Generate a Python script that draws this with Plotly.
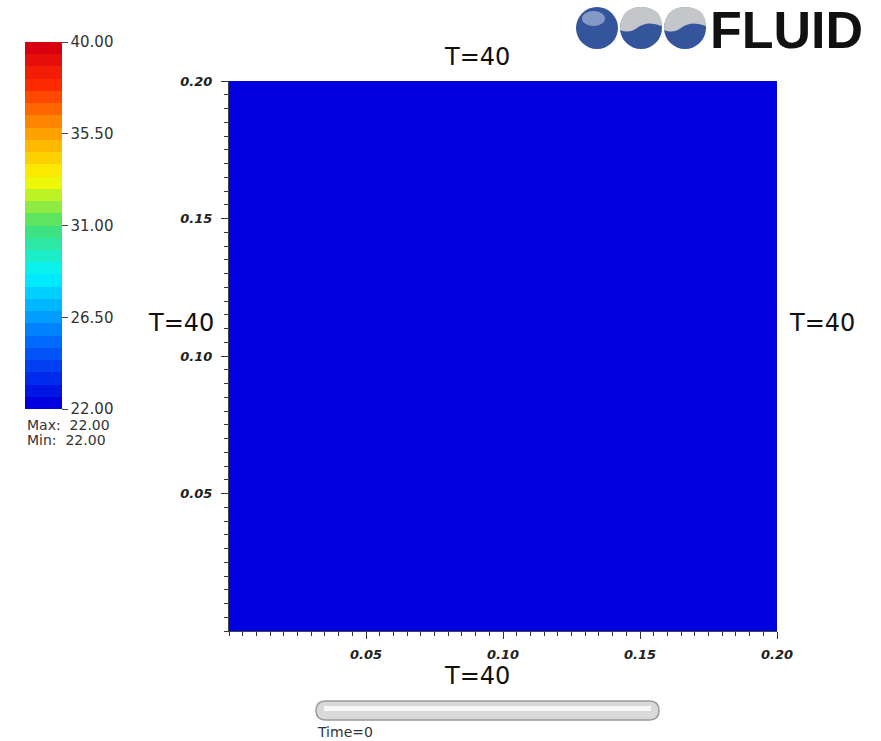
import plotly.graph_objects as go

# ---- data ----
x_centers = [0.025, 0.075, 0.125, 0.175]
y_centers = [0.025, 0.075, 0.125, 0.175]
temperature = [
    [22.0, 22.0, 22.0, 22.0],
    [22.0, 22.0, 22.0, 22.0],
    [22.0, 22.0, 22.0, 22.0],
    [22.0, 22.0, 22.0, 22.0],
]
t_min, t_max = 22.0, 40.0
cbar_ticks = [22.0, 26.5, 31.0, 35.5, 40.0]
axis_ticks = [0.05, 0.10, 0.15, 0.20]
boundary_labels = ["T=40", "T=40", "T=40", "T=40"]  # top, left, right, bottom
time_label = "Time=0"
logo_text = "FLUID"

W, H = 881, 741
L, R, T, B = 229, 777, 81, 631


def px(xp):
    return (xp - L) / (R - L)


def py(yp):
    return (B - yp) / (B - T)


# discrete rainbow colour map (30 bands)
anchors = [
    (0.00, (0, 0, 222)),
    (0.18, (0, 110, 255)),
    (0.36, (0, 245, 255)),
    (0.50, (70, 225, 110)),
    (0.63, (250, 250, 0)),
    (0.76, (255, 160, 0)),
    (0.90, (255, 40, 0)),
    (1.00, (215, 0, 15)),
]


def interp(f):
    for (a, ca), (b, cb) in zip(anchors[:-1], anchors[1:]):
        if a <= f <= b:
            t = (f - a) / (b - a)
            return tuple(int(round(ca[i] + (cb[i] - ca[i]) * t)) for i in range(3))
    return anchors[-1][1]


nb = 30
cscale = []
for i in range(nb):
    c = interp(i / (nb - 1))
    col = f"rgb({c[0]},{c[1]},{c[2]})"
    cscale.append([i / nb, col])
    cscale.append([(i + 1) / nb, col])

fig = go.Figure()
fig.add_trace(go.Heatmap(
    x=x_centers, y=y_centers, z=temperature,
    zmin=t_min, zmax=t_max, colorscale=cscale,
    hoverinfo="skip",
    colorbar=dict(
        x=px(25), xanchor="left", xpad=0,
        y=py(225.5), yanchor="middle", ypad=0,
        thickness=37, lenmode="pixels", len=367,
        outlinewidth=0,
        tickmode="array", tickvals=cbar_ticks,
        ticktext=[f"{v:.2f}" for v in cbar_ticks],
        ticks="outside", ticklen=6, tickcolor="#444", tickwidth=1,
        tickfont=dict(family="DejaVu Sans", size=15, color="#333"),
    ),
))

tickfont = dict(family="DejaVu Sans", size=13, color="#222", weight="bold", style="italic")
axis_common = dict(
    range=[0, 0.2], tickmode="array", tickvals=axis_ticks,
    ticktext=[f"{v:.2f}" for v in axis_ticks],
    ticks="outside", ticklen=7, tickcolor="#333", tickwidth=1,
    showline=True, linecolor="#444", linewidth=1,
    showgrid=False, zeroline=False, tickfont=tickfont,
    minor=dict(tickmode="linear", tick0=0, dtick=0.005, ticks="outside",
               ticklen=4, tickcolor="#333", tickwidth=1, showgrid=False),
)
fig.update_xaxes(**axis_common, ticklabelstandoff=4)
fig.update_yaxes(**axis_common, ticklabelstandoff=6)

ann = []
lab_font = dict(family="DejaVu Sans", size=24, color="#111")
ann.append(dict(x=px(477), y=py(57), text=boundary_labels[0], showarrow=False,
                xref="paper", yref="paper", xanchor="center", yanchor="middle", font=lab_font))
ann.append(dict(x=px(181), y=py(323), text=boundary_labels[1], showarrow=False,
                xref="paper", yref="paper", xanchor="center", yanchor="middle", font=lab_font))
ann.append(dict(x=px(822), y=py(323), text=boundary_labels[2], showarrow=False,
                xref="paper", yref="paper", xanchor="center", yanchor="middle", font=lab_font))
ann.append(dict(x=px(477), y=py(676), text=boundary_labels[3], showarrow=False,
                xref="paper", yref="paper", xanchor="center", yanchor="middle", font=lab_font))
small = dict(family="DejaVu Sans", size=14, color="#333")
ann.append(dict(x=px(25), y=py(425), text=f"Max:  {max(max(r) for r in temperature):.2f}",
                showarrow=False, xref="paper", yref="paper", xanchor="left", yanchor="middle", font=small))
ann.append(dict(x=px(25), y=py(440), text=f"Min:  {min(min(r) for r in temperature):.2f}",
                showarrow=False, xref="paper", yref="paper", xanchor="left", yanchor="middle", font=small))
ann.append(dict(x=px(315), y=py(732), text=time_label, showarrow=False,
                xref="paper", yref="paper", xanchor="left", yanchor="middle", font=small))
ann.append(dict(x=px(786), y=py(30), text=logo_text, showarrow=False,
                xref="paper", yref="paper", xanchor="center", yanchor="middle",
                font=dict(family="Liberation Sans", size=52, color="#111", weight="bold")))

shapes = []
# logo spheres
for i, cx in enumerate([597, 641, 685]):
    r = 21
    cy = 28
    shapes.append(dict(type="circle", xref="paper", yref="paper",
                       x0=px(cx - r), x1=px(cx + r), y0=py(cy + r), y1=py(cy - r),
                       fillcolor="#34559c", line=dict(width=0)))
    if i > 0:
        # silver upper cap
        path = (f"M {px(cx - r)},{py(cy + 2)} "
                f"Q {px(cx - r)},{py(cy - r)} {px(cx)},{py(cy - r)} "
                f"Q {px(cx + r)},{py(cy - r)} {px(cx + r)},{py(cy - 2)} "
                f"Q {px(cx + 6)},{py(cy - 8)} {px(cx - 4)},{py(cy)} "
                f"Q {px(cx - 12)},{py(cy + 6)} {px(cx - r)},{py(cy + 2)} Z")
        shapes.append(dict(type="path", xref="paper", yref="paper", path=path,
                           fillcolor="#c4c6ca", line=dict(width=0)))
    else:
        shapes.append(dict(type="circle", xref="paper", yref="paper",
                           x0=px(cx - 15), x1=px(cx + 8), y0=py(cy - 2), y1=py(cy - 17),
                           fillcolor="rgba(200,210,235,0.55)", line=dict(width=0)))

# time slider bar
x0b, x1b, y0b, y1b, rr = 316, 659, 701, 720, 9.5
path = (f"M {px(x0b + rr)},{py(y0b)} L {px(x1b - rr)},{py(y0b)} "
        f"Q {px(x1b)},{py(y0b)} {px(x1b)},{py(y0b + rr)} "
        f"Q {px(x1b)},{py(y1b)} {px(x1b - rr)},{py(y1b)} "
        f"L {px(x0b + rr)},{py(y1b)} "
        f"Q {px(x0b)},{py(y1b)} {px(x0b)},{py(y0b + rr)} "
        f"Q {px(x0b)},{py(y0b)} {px(x0b + rr)},{py(y0b)} Z")
shapes.append(dict(type="path", xref="paper", yref="paper", path=path,
                   fillcolor="#d9d9d9", line=dict(color="#9a9a9a", width=1.5)))
shapes.append(dict(type="path", xref="paper", yref="paper",
                   path=(f"M {px(x0b + 8)},{py(706)} L {px(x1b - 8)},{py(706)} "
                         f"L {px(x1b - 8)},{py(711)} L {px(x0b + 8)},{py(711)} Z"),
                   fillcolor="#f7f7f7", line=dict(width=0)))

fig.update_layout(
    width=W, height=H,
    margin=dict(l=L, r=W - R, t=T, b=H - B, pad=0),
    paper_bgcolor="white", plot_bgcolor="white",
    annotations=ann, shapes=shapes, showlegend=False,
)

fig.write_html("out.html")
